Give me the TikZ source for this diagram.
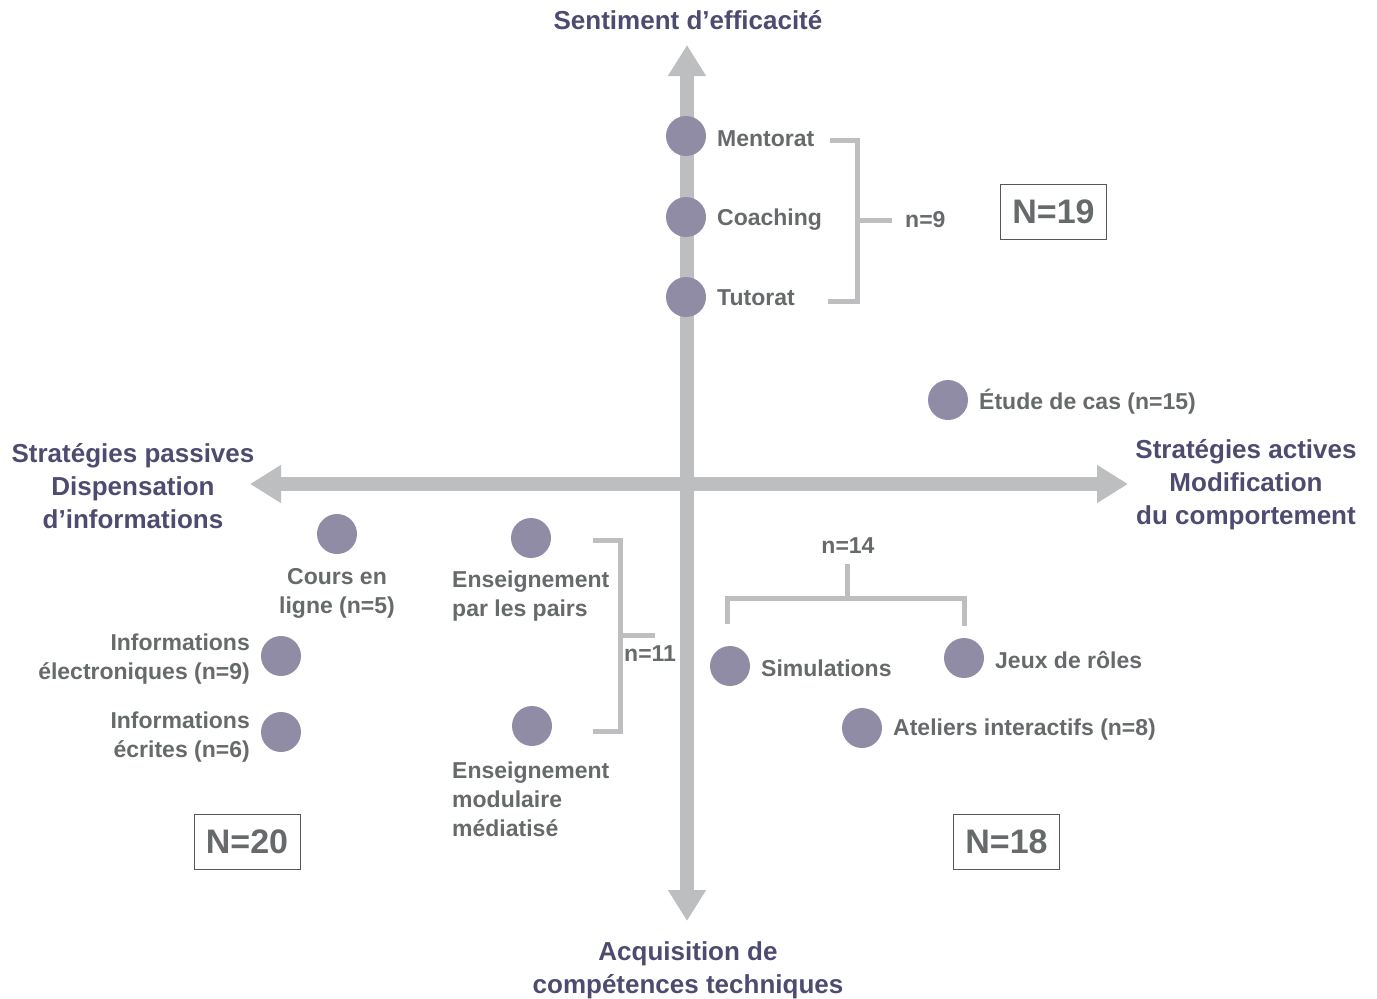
\documentclass[tikz,border=0pt]{standalone}
\usepackage{fontspec}
\setmainfont{Liberation Sans}
\usetikzlibrary{arrows.meta}
\definecolor{titlec}{HTML}{4E4B70}
\definecolor{labc}{HTML}{666A6B}
\definecolor{dotc}{HTML}{918CA6}
\definecolor{axisc}{HTML}{BDBEC0}
\definecolor{boxc}{HTML}{555759}
\begin{document}
\begin{tikzpicture}[x=1pt,y=-1pt,
  title/.style={text=titlec,font=\bfseries\fontsize{26}{33}\selectfont,align=center,inner sep=0pt},
  lab/.style={text=labc,font=\bfseries\fontsize{23}{29}\selectfont,inner sep=0pt},
  dot/.style={circle,fill=dotc,minimum size=40pt,inner sep=0pt},
  axis/.style={draw=axisc,line width=14pt,{Triangle[width=36pt,length=31pt]}-{Triangle[width=36pt,length=31pt]}},
  brack/.style={draw=axisc,line width=5pt},
  nbox/.style={draw=boxc,line width=1pt,text=labc,font=\bfseries\fontsize{34}{34}\selectfont,minimum width=106pt,minimum height=55pt,inner sep=0pt}]
\useasboundingbox (0,0) rectangle (1377,999);
% axes
\coordinate (top) at (687,45);
\coordinate (bot) at (687,921);
\coordinate (lft) at (250,484);
\coordinate (rgt) at (1128,484);
\draw[axis] (lft) -- (rgt);
\draw[axis] (bot) -- (top);
% titles
\node[title] (tTop) at (688,20) {Sentiment d’efficacité};
\node[title] (tBot) at (688,970) {Acquisition de\\compétences techniques};
\node[title] (tL) at (133,486) {Stratégies passives\\Dispensation\\d’informations};
\node[title] (tR) at (1246,485) {Stratégies actives\\Modification\\du comportement};
% top cluster
\node[dot] (d1) at (686,136) {};
\node[dot] (d2) at (686,217) {};
\node[dot] (d3) at (686,297) {};
\node[lab,anchor=west] (l1) at (717,139) {Mentorat};
\node[lab,anchor=west] (l2) at (717,220) {Coaching};
\node[lab,anchor=west] (l3) at (717,298) {Tutorat};
\coordinate (b9a) at (830,140);
\coordinate (b9b) at (857,140);
\coordinate (b9c) at (857,301);
\coordinate (b9d) at (828,301);
\coordinate (b9m) at (857,220);
\coordinate (b9t) at (892,220);
\draw[brack] (b9a) -- (b9b) -- (b9c) -- (b9d);
\draw[brack] (b9m) -- (b9t);
\node[lab,anchor=west] (n9) at (905,220) {n=9};
\node[nbox] (N19) at (1053.5,211.5) {N=19};
% etude de cas
\node[dot] (d4) at (948,400) {};
\node[lab,anchor=west] (l4) at (979,402) {Étude de cas (n=15)};
% left
\node[dot] (d5) at (337,534) {};
\node[lab,align=center] (l5) at (337,593) {Cours en\\ligne (n=5)};
\node[dot] (d6) at (281,656) {};
\node[lab,align=right,anchor=east] (l6) at (250,659) {Informations\\électroniques (n=9)};
\node[dot] (d7) at (281,732) {};
\node[lab,align=right,anchor=east] (l7) at (250,737) {Informations\\écrites (n=6)};
\node[nbox] (N20) at (247,842) {N=20};
% middle-left
\node[dot] (d8) at (531,538) {};
\node[lab,align=left,anchor=west] (l8) at (452,596) {Enseignement\\par les pairs};
\node[dot] (d9) at (532,726) {};
\node[lab,align=left,anchor=west] (l9) at (452,799) {Enseignement\\modulaire\\médiatisé};
\coordinate (b11a) at (593,540);
\coordinate (b11b) at (620,540);
\coordinate (b11c) at (620,731);
\coordinate (b11d) at (593,731);
\coordinate (b11m) at (620,635);
\coordinate (b11t) at (655,635);
\draw[brack] (b11a) -- (b11b) -- (b11c) -- (b11d);
\draw[brack] (b11m) -- (b11t);
\node[lab,anchor=west] (n11) at (624,654) {n=11};
% right-bottom
\node[lab] (n14) at (848,546) {n=14};
\coordinate (b14t) at (847,564);
\coordinate (b14m) at (847,598);
\coordinate (b14l) at (727,598);
\coordinate (b14ld) at (727,624);
\coordinate (b14r) at (964,598);
\coordinate (b14rd) at (964,626);
\draw[brack] (b14t) -- (b14m);
\draw[brack] (b14ld) -- (b14l) -- (b14r) -- (b14rd);
\node[dot] (d10) at (730,666) {};
\node[lab,anchor=west] (l10) at (761,668) {Simulations};
\node[dot] (d11) at (964,658) {};
\node[lab,anchor=west] (l11) at (995,660) {Jeux de rôles};
\node[dot] (d12) at (862,728) {};
\node[lab,anchor=west] (l12) at (893,730) {Ateliers interactifs (n=8)};
\node[nbox] (N18) at (1006.5,842) {N=18};
\end{tikzpicture}
\end{document}
